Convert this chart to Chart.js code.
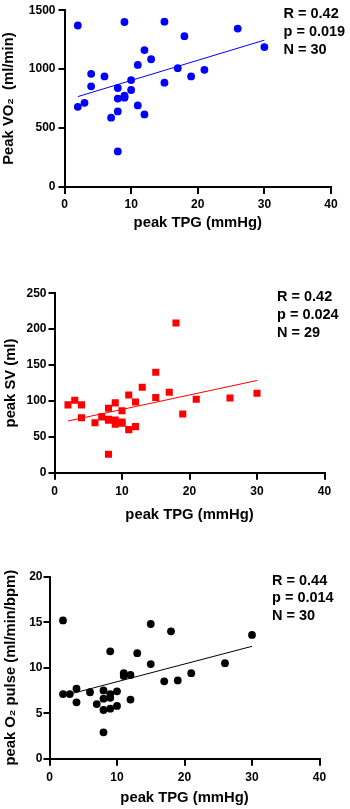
<!DOCTYPE html>
<html>
<head>
<meta charset="utf-8">
<script src="https://cdn.jsdelivr.net/npm/chart.js@4.4.1/dist/chart.umd.min.js"></script>
<style>
  html, body { margin: 0; padding: 0; background: #fff; }
  body { width: 350px; height: 809px; position: relative; overflow: hidden; }
  .panel { position: absolute; left: 0; width: 350px; }
</style>
</head>
<body>
<div class="panel" id="p1" style="top:0px;height:240px"><canvas id="c1" width="350" height="240"></canvas></div>
<div class="panel" id="p2" style="top:270px;height:260px"><canvas id="c2" width="350" height="260"></canvas></div>
<div class="panel" id="p3" style="top:560px;height:249px"><canvas id="c3" width="350" height="249"></canvas></div>
<script>
// ---------------- DATA ----------------
const xTicks = [0, 10, 20, 30, 40];

// Panel 1: peak VO2 vs peak TPG
const tpgVO2 = [2, 2, 3, 4, 4, 6, 7, 8, 8, 8, 8, 9, 9, 9, 9, 10, 10, 11, 11, 12, 12, 13, 15, 15, 17, 18, 19, 21, 26, 30];
const peakVO2 = [1370, 680, 714, 960, 854, 938, 588, 840, 750, 641, 302, 1400, 775, 758, 766, 907, 823, 1036, 692, 1162, 616, 1084, 1403, 885, 1008, 1280, 938, 994, 1344, 1187];
const fitVO2X = [2, 30];
const fitVO2Y = [767, 1246];
const statsVO2 = ["R = 0.42", "p = 0.019", "N = 30"];
const yTicksVO2 = [0, 500, 1000, 1500];

// Panel 2: peak SV vs peak TPG
const tpgSV = [2, 3, 4, 4, 6, 7, 8, 8, 8, 8, 9, 9, 9, 10, 10, 10, 11, 11, 12, 12, 13, 15, 15, 17, 18, 19, 21, 26, 30];
const peakSV = [94.5, 101, 94.5, 76.6, 69.5, 77.8, 89.7, 73.2, 74.5, 25.6, 97.3, 73.4, 67.6, 86.4, 70.5, 69, 108.3, 60, 98.5, 64.2, 119, 140, 104.8, 112, 208.6, 81.8, 102.3, 104.1, 110.6];
const fitSVX = [2, 30];
const fitSVY = [72, 128.5];
const statsSV = ["R = 0.42", "p = 0.024", "N = 29"];
const yTicksSV = [0, 50, 100, 150, 200, 250];

// Panel 3: peak O2 pulse vs peak TPG
const tpgO2 = [2, 2, 3, 4, 4, 6, 7, 8, 8, 8, 8, 9, 9, 9, 9, 10, 10, 11, 11, 12, 12, 13, 15, 15, 17, 18, 19, 21, 26, 30];
const peakO2 = [15.2, 7.1, 7.1, 7.7, 6.2, 7.3, 6.0, 7.5, 6.6, 5.35, 2.9, 11.8, 7.1, 6.7, 5.5, 7.4, 5.8, 9.4, 9.1, 9.2, 6.5, 11.6, 14.8, 10.4, 8.5, 14.0, 8.6, 9.4, 10.5, 13.6];
const fitO2X = [2, 30];
const fitO2Y = [6.9, 12.35];
const statsO2 = ["R = 0.44", "p = 0.014", "N = 30"];
const yTicksO2 = [0, 5, 10, 15, 20];

const xTitle = "peak TPG (mmHg)";
// ---------------------------------------

const FONT = "'Liberation Sans', Arial, Helvetica, 'DejaVu Sans', sans-serif";
Chart.defaults.color = '#000';
Chart.defaults.font.family = FONT;

const zip = (xs, ys) => xs.map((x, i) => ({ x: x, y: ys[i] }));

const statsPlugin = {
  id: 'stats',
  afterDraw(chart, args, opts) {
    const ctx = chart.ctx;
    const ca = chart.chartArea;
    ctx.save();
    ctx.font = 'bold 14.5px ' + FONT;
    ctx.fillStyle = '#000';
    ctx.textAlign = 'left';
    ctx.textBaseline = 'middle';
    opts.lines.forEach((t, i) => {
      ctx.fillText(t, ca.right - opts.dx, ca.top + opts.dy + i * 17.8);
    });
    ctx.restore();
  }
};

function makeChart(id, cfg) {
  const H = cfg.canvasH;
  const scaleBottom = cfg.titleMid + 8.88;       // relative to canvas top
  const xH = scaleBottom - cfg.areaBottom;
  const yTickVals = cfg.yTicks;
  return new Chart(document.getElementById(id), {
    type: 'scatter',
    data: {
      datasets: [
        {
          data: zip(cfg.xs, cfg.ys),
          backgroundColor: cfg.color,
          borderColor: cfg.color,
          borderWidth: 0,
          pointStyle: cfg.pointStyle,
          pointRadius: cfg.radius,
          pointHoverRadius: cfg.radius
        },
        {
          type: 'line',
          data: zip(cfg.fitX, cfg.fitY),
          borderColor: cfg.color,
          borderWidth: 1,
          pointRadius: 0,
          fill: false,
          tension: 0
        }
      ]
    },
    options: {
      responsive: false,
      animation: false,
      events: [],
      layout: {
        padding: { left: 0, top: cfg.areaTop, right: 350 - cfg.areaRight, bottom: H - scaleBottom }
      },
      plugins: {
        legend: { display: false },
        tooltip: { enabled: false },
        stats: { lines: cfg.stats, dx: 47.5, dy: 3.8 }
      },
      scales: {
        x: {
          type: 'linear',
          min: 0, max: 40,
          afterBuildTicks: s => { s.ticks = xTicks.map(v => ({ value: v })); },
          afterFit: s => { s.height = xH; },
          grid: { display: true, drawOnChartArea: false, drawTicks: true, tickLength: 7, color: '#000', lineWidth: 2 },
          border: { display: true, color: '#000', width: 2 },
          ticks: { padding: cfg.xPad, font: { size: 12, weight: 'bold' }, color: '#000', maxRotation: 0, callback: v => String(v) },
          title: { display: true, text: xTitle, font: { size: 14.8, weight: 'bold' }, color: '#000', padding: { top: 0, bottom: 0 } }
        },
        y: {
          type: 'linear',
          min: yTickVals[0], max: yTickVals[yTickVals.length - 1],
          afterBuildTicks: s => { s.ticks = yTickVals.map(v => ({ value: v })); },
          afterFit: s => { s.width = cfg.areaLeft; },
          grid: { display: true, drawOnChartArea: false, drawTicks: true, tickLength: 6, color: '#000', lineWidth: 2 },
          border: { display: true, color: '#000', width: 2 },
          ticks: { padding: cfg.yPad, font: { size: 12, weight: 'bold' }, color: '#000', callback: v => String(v) },
          title: { display: true, text: cfg.yTitle, font: { size: 14.8, weight: 'bold' }, color: '#000', padding: { top: cfg.yTitlePad, bottom: 0 } }
        }
      }
    },
    plugins: [statsPlugin]
  });
}

makeChart('c1', {
  canvasH: 240, areaTop: 8.5, areaBottom: 187, areaLeft: 64.5, areaRight: 331, titleMid: 222.5,
  xs: tpgVO2, ys: peakVO2, fitX: fitVO2X, fitY: fitVO2Y, stats: statsVO2, yTicks: yTicksVO2,
  color: '#0000FF', pointStyle: 'circle', radius: 3.9, yPad: 3, xPad: 3,
  yTitle: 'Peak VO\u2082  (ml/min)', yTitlePad: 0
});

makeChart('c2', {
  canvasH: 260, areaTop: 23.3, areaBottom: 202.7, areaLeft: 54.5, areaRight: 324.5, titleMid: 245,
  xs: tpgSV, ys: peakSV, fitX: fitSVX, fitY: fitSVY, stats: statsSV, yTicks: yTicksSV,
  color: '#FF0000', pointStyle: 'rect', radius: 5, yPad: 2, xPad: 4.5,
  yTitle: 'peak SV (ml)', yTitlePad: 2
});

makeChart('c3', {
  canvasH: 249, areaTop: 16.7, areaBottom: 198.7, areaLeft: 49.5, areaRight: 319.5, titleMid: 237.5,
  xs: tpgO2, ys: peakO2, fitX: fitO2X, fitY: fitO2Y, stats: statsO2, yTicks: yTicksO2,
  color: '#000000', pointStyle: 'circle', radius: 3.9, yPad: 1, xPad: 5,
  yTitle: 'peak O\u2082 pulse (ml/min/bpm)', yTitlePad: 2
});
</script>
</body>
</html>
